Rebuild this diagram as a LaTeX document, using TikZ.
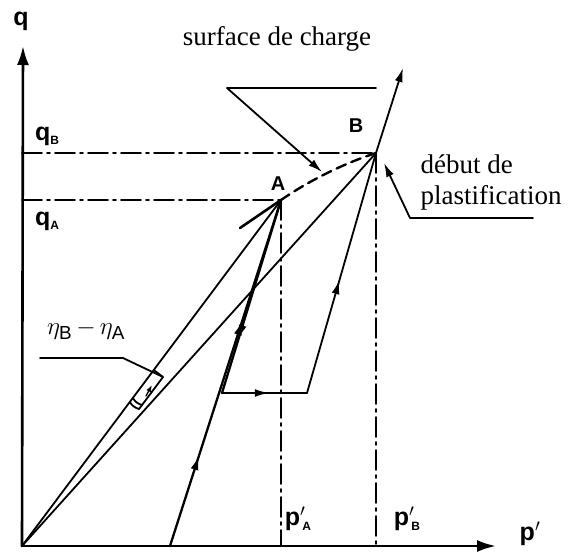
\documentclass[tikz,border=0pt]{standalone}
\usepackage{fontspec}
\setmainfont{Liberation Serif}
\setsansfont{Liberation Sans}
\usetikzlibrary{arrows.meta,decorations.markings,calc}
\newcommand\sbs[1]{\raisebox{-0.35ex}{\fontsize{12}{12}\selectfont #1}}
\begin{document}
\begin{tikzpicture}[x=1pt,y=-1pt, line cap=round, line join=round,
  ln/.style={line width=1.8pt},
  axis/.style={line width=2.6pt,-{Latex[length=19pt,width=12pt]}},
  dashdot/.style={line width=1.6pt, dash pattern=on 20pt off 5pt on 3pt off 5pt},
  lbl/.style={font=\sffamily\bfseries\fontsize{25}{27}\selectfont, inner sep=0pt},
  albl/.style={font=\sffamily\bfseries\fontsize{20}{22}\selectfont, inner sep=0pt},
  txt/.style={font=\fontsize{27}{31}\selectfont, inner sep=0pt},
  tipA/.style={-{Latex[length=14pt,width=8pt]}},
  onemid/.style={postaction={decorate}, decoration={markings,
      mark=at position #1 with {\arrow{Latex[length=14pt,width=8pt]}}}},
  twomid/.style={postaction={decorate}, decoration={markings,
      mark=at position 0.26 with {\arrow{Latex[length=14pt,width=8pt]}},
      mark=at position 0.65 with {\arrow{Latex[length=14pt,width=8pt]}}}}
]
\useasboundingbox (0,0) rectangle (569,556);
% key points
\coordinate (O) at (22,546);
\coordinate (ytip) at (23,46);
\coordinate (xtip) at (496,546);
\coordinate (A) at (281,200);
\coordinate (B) at (376,153);
\coordinate (S0) at (170,546);
\coordinate (U) at (222,393);
\coordinate (R) at (307,393);
\coordinate (Btip) at (403,68);
\coordinate (Aext) at (240,228);
% axes
\draw[axis] (O) -- (ytip);
\draw[axis] (O) -- (xtip);
% dash-dot reference lines
\draw[dashdot] (O |- B) -- (B);
\draw[dashdot] (O |- A) -- (A);
\draw[dashdot] (A) -- (A |- O);
\draw[dashdot] (B) -- (B |- O);
% lines from origin
\draw[ln] (O) -- (A);
\draw[ln] (O) -- (B);
% stress path
\draw[line width=2.3pt, twomid] (S0) -- (A);
\draw[line width=2.3pt, onemid=0.72] (A) -- (U);
\draw[ln, onemid=0.55] (U) -- (R);
\draw[ln, onemid=0.47] (R) -- (B);
\draw[ln, tipA] (B) -- (Btip);
% surface de charge
\draw[line width=2.4pt, dash pattern=on 10pt off 6pt] (A) .. controls (310,180) and (345,163) .. (B);
\draw[line width=2.6pt] (A) -- (Aext);
% labels
\node[lbl] (lq) at (21,21) {q};
\node[lbl] (lp) at (530,534) {p$'$};
\node[lbl] (lqB) at (47,136) {q\sbs{B}};
\node[lbl] (lqA) at (47,221) {q\sbs{A}};
\node[albl] (lA) at (278,184) {A};
\node[albl] (lB) at (356,126) {B};
\node[lbl] (lpA) at (298,519) {p$'$\kern-3pt\sbs{A}};
\node[lbl] (lpB) at (407,519) {p$'$\kern-3pt\sbs{B}};
% surface de charge label and leader
\node[txt] (sdc) at (277,39) {surface de charge};
\coordinate (s1) at (376,88);
\coordinate (s2) at (227,88);
\coordinate (s3) at (322,172);
\draw[ln, tipA] (s1) -- (s2) -- (s3);
% debut de plastification
\node[txt, align=left] (dp) at (491,182) {début de\\plastification};
\coordinate (d1) at (533,218);
\coordinate (d2) at (410,218);
\coordinate (d3) at (384,163);
\draw[ln, tipA] (d1) -- (d2) -- (d3);
% eta label and angle marker
\node[font=\fontsize{27}{30}\selectfont, inner sep=0pt] (eta) at (86,330) {$\eta_{\mathsf{B}}\,{-}\,\eta_{\mathsf{A}}$};
\coordinate (e1) at (40,358);
\coordinate (e2) at (123,358);
\coordinate (P1) at (153.7,370);
\coordinate (P2) at (129.8,402);
\coordinate (P3) at (139,409);
\coordinate (P4) at (163,377);
\coordinate (P2b) at (132.8,398);
\coordinate (P3b) at (142,405);
\draw[ln] (e1) -- (e2) -- (P4);
\draw[ln] (P1) -- (P4) -- (P3);
\draw[ln] (P2) to[bend right=20] (P3);
\draw[ln] (P2b) to[bend right=20] (P3b);
\draw[line width=1.3pt, -{Latex[length=7pt,width=5pt]}] (146,396) -- (152,385);
\end{tikzpicture}
\end{document}
